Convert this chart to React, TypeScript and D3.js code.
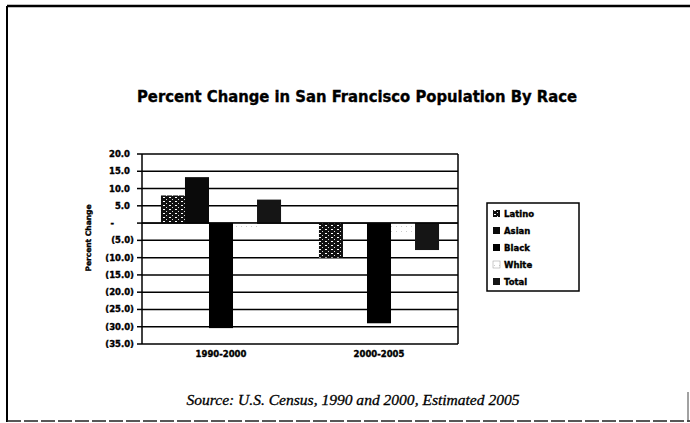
import React from 'react';
import * as d3 from 'd3';

// chart values
const periods = ['1990-2000', '2000-2005'];
const races = ['Latino', 'Asian', 'Black', 'White', 'Total'];
const latino = [8.0, -10.0];
const asian = [13.3, 0.0];
const black = [-30.4, -29.0];
const white = [-1.3, -3.0];
const total = [6.8, -7.8];
const yTicks = [20, 15, 10, 5, 0, -5, -10, -15, -20, -25, -30, -35];

const seriesValues: any = { Latino: latino, Asian: asian, Black: black, White: white, Total: total };
const fills: any = {
  Latino: 'url(#latinoPat)',
  Asian: '#0a0a0a',
  Black: '#000',
  White: 'url(#whitePat)',
  Total: '#151515'
};

const fmt = (d: number) => (d === 0 ? '-' : d < 0 ? `(${Math.abs(d).toFixed(1)})` : d.toFixed(1));

const App = () => {
  const left = 142;
  const right = 458;
  const top = 154;
  const bottom = 344;

  const x0 = d3.scaleBand().domain(periods).range([left, right]).paddingInner(0.24).paddingOuter(0.12);
  const x1 = d3.scaleBand().domain(races).range([0, x0.bandwidth()]);
  const y = d3.scaleLinear().domain([-35, 20]).range([bottom, top]);

  const bars: any[] = [];
  periods.forEach((p, i) => {
    races.forEach((r) => {
      const v = seriesValues[r][i];
      bars.push({ p, r, v });
    });
  });

  const bold = "'DejaVu Sans', sans-serif";
  // scanned text looks heavier than a plain bold
  const heavy = { stroke: '#000', strokeWidth: 0.35 };

  return (
    <svg width={690} height={423} style={{ position: 'absolute', left: 0, top: 0, background: '#fff' }}>
      <defs>
        <pattern id="latinoPat" width="6" height="4" patternUnits="userSpaceOnUse">
          <rect width="6" height="4" fill="#111" />
          <rect x="1" y="1" width="2" height="1" fill="#fff" />
          <rect x="4" y="3" width="1" height="1" fill="#ddd" />
        </pattern>
        <pattern id="whitePat" width="5" height="5" patternUnits="userSpaceOnUse">
          <rect width="5" height="5" fill="#fff" />
          <rect x="1" y="1" width="1" height="1" fill="#ccc" />
        </pattern>
      </defs>

      {/* scanned page frame */}
      <line x1={7} y1={6} x2={690} y2={6} stroke="#000" strokeWidth={2.5} />
      <line x1={7} y1={6} x2={7} y2={422} stroke="#000" strokeWidth={2} />
      <line x1={7} y1={421} x2={690} y2={421} stroke="#222" strokeWidth={1.5} strokeDasharray="14 3" />
      <line x1={688} y1={392} x2={688} y2={422} stroke="#444" strokeWidth={1} />

      <text x={357} y={102} textAnchor="middle" fontFamily={bold} fontWeight="bold" fontSize={15}
        textLength={440} lengthAdjust="spacingAndGlyphs" {...heavy}>
        Percent Change  in San Francisco Population By Race
      </text>

      {/* grid */}
      {yTicks.map((t) => (
        <g key={t}>
          <line x1={left} x2={right} y1={y(t)} y2={y(t)} stroke="#000" strokeWidth={1.5} />
          <line x1={left - 5} x2={left} y1={y(t)} y2={y(t)} stroke="#000" strokeWidth={1.5} />
          <text x={t === 0 ? 114 : t < 0 ? 134 : 130} y={y(t) + 3} textAnchor="end"
            fontFamily={bold} fontWeight="bold" fontSize={8.5} {...heavy}>
            {fmt(t)}
          </text>
        </g>
      ))}
      <line x1={left} x2={left} y1={top} y2={bottom} stroke="#000" strokeWidth={1.5} />
      <line x1={right} x2={right} y1={top} y2={bottom} stroke="#000" strokeWidth={1.5} />

      {bars.map((b) => (
        <rect key={b.p + b.r}
          x={(x0(b.p) as number) + (x1(b.r) as number)}
          y={y(Math.max(0, b.v))}
          width={x1.bandwidth()}
          height={Math.abs(y(b.v) - y(0))}
          fill={fills[b.r]} />
      ))}
      <line x1={left} x2={right} y1={y(0)} y2={y(0)} stroke="#000" strokeWidth={1.2} />

      {periods.map((p) => (
        <text key={p} x={(x0(p) as number) + x0.bandwidth() / 2} y={357} textAnchor="middle"
          fontFamily={bold} fontWeight="bold" fontSize={8.5} {...heavy}>
          {p}
        </text>
      ))}

      <text transform={`translate(91,238) rotate(-90)`} textAnchor="middle"
        fontFamily={bold} fontWeight="bold" fontSize={7.5} {...heavy}>
        Percent Change
      </text>

      {/* legend */}
      <rect x={487} y={203} width={92} height={88} fill="#fff" stroke="#000" strokeWidth={1.5} />
      {races.map((r, i) => (
        <g key={r} transform={`translate(493,${213 + i * 17})`}>
          <rect x={0} y={-3} width={7} height={7} fill={fills[r]} stroke={r === 'White' ? '#999' : 'none'} strokeWidth={0.5} />
          <text x={11} y={3.5} fontFamily={bold} fontWeight="bold" fontSize={8.5} {...heavy}>{r}</text>
        </g>
      ))}

      <text x={353} y={405} textAnchor="middle" fontFamily="'Liberation Serif', serif" fontStyle="italic"
        fontSize={15} textLength={333} lengthAdjust="spacingAndGlyphs" stroke="#000" strokeWidth={0.3}>
        Source:  U.S.  Census, 1990 and 2000, Estimated 2005
      </text>
    </svg>
  );
};

export default App;
